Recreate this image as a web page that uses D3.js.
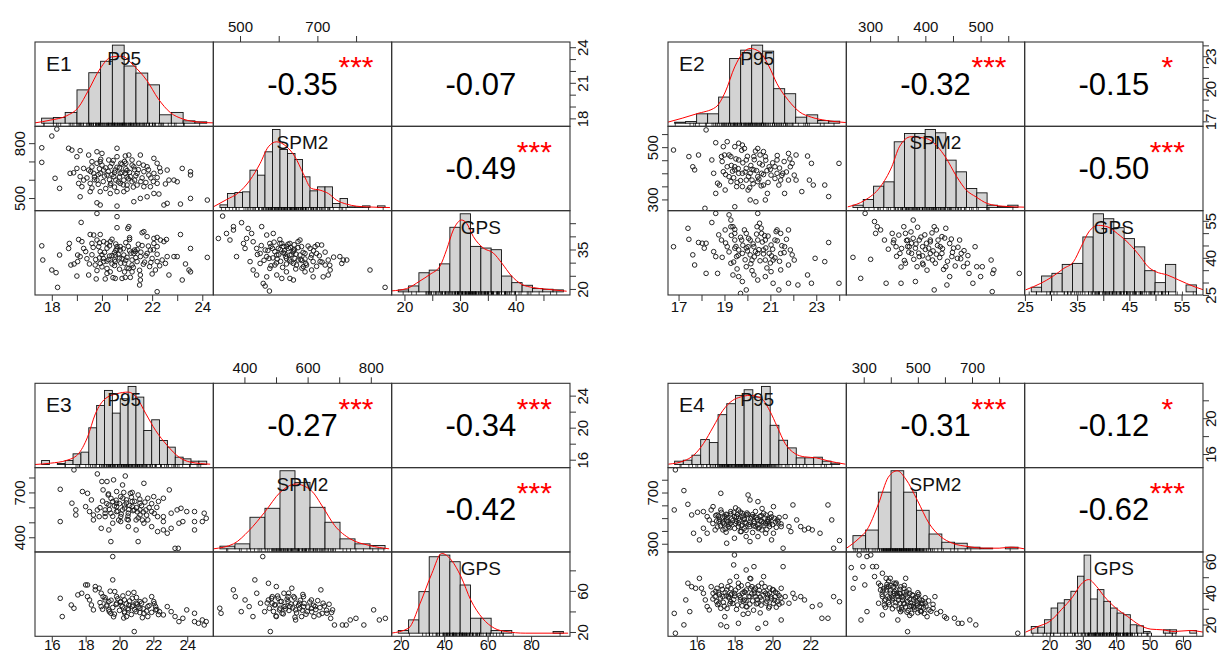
<!DOCTYPE html>
<html><head><meta charset="utf-8">
<script src="https://cdn.jsdelivr.net/npm/d3@7"></script>
<style>
html,body{margin:0;padding:0;background:#fff;}
svg{display:block;font-family:"Liberation Sans",Arial,Helvetica,sans-serif;}
</style></head><body>
<svg id="chart" width="1220" height="654"></svg>
<script>
// ================= DATA =================
const variables = ["P95", "SPM2", "GPS"];
const panelNames = ["E1", "E2", "E3", "E4"];

// ---- E1 ----
const E1_limits = [[17.33, 24.44], [431, 892], [17.7, 49.77]];
const E1_ticks = [[18,19,20,21,22,23,24], [500,600,700,800], [20,25,30,35,40,45]];
// labels: P95 bottom, SPM2 top, GPS bottom, P95 right, SPM2 left, GPS right
const E1_tickLabels = [[18,20,22,24], [500,700], [20,30,40], [18,21,24], [500,800], [20,35]];
const E1_cor = [-0.35, -0.07, -0.49];
const E1_sig = ["***", "", "***"];
const E1_P95_breaks = [17.5,18,18.5,19,19.5,20,20.5,21,21.5,22,22.5,23,23.5,24,24.5];
const E1_P95_freq = [15,17,32,99,150,184,232,170,149,114,25,32,7,4];
const E1_P95_density = [[17.22,1],[17.86,9],[18.56,22],[19.06,47],[19.48,97],[19.98,162],[20.47,197],[20.9,199],[21.39,172],[21.96,127],[22.45,72],[22.95,32],[23.51,12],[24.22,3],[24.78,1]];
const E1_SPM2_breaks = [440,460,480,500,520,540,560,580,600,620,640,660,680,700,720,740,760,780,800,820,840,860,880];
const E1_SPM2_freq = [8,42,45,47,112,97,167,234,174,162,144,92,50,62,62,12,27,2,2,5,0,5];
const E1_SPM2_density = [[422.5,2],[458,24],[489,44],[520,82],[547,132],[569,182],[591,197],[618,182],[640,152],[662,102],[684,57],[707,52],[729,42],[751,22],[778,10],[804,4],[831,2],[893,0]];
const E1_GPS_breaks = [18,20,22,24,26,28,30,32,34,36,38,40,42,44,46,48,50];
const E1_GPS_freq = [6,18,58,66,85,196,237,138,133,128,48,28,20,10,8,6];
const E1_GPS_density = [[16.72,3],[19.62,10],[22.2,33],[24.14,53],[26.08,78],[27.37,128],[28.67,188],[30.28,218],[31.25,208],[32.54,168],[34.48,133],[36.42,118],[38.03,88],[39.97,48],[41.91,23],[44.17,13],[46.75,8],[50.63,2]];
const E1_P95_SPM2 = [[18.2,877],[18.0,839],[17.6,775],[17.6,695],[18.67,772],[18.8,762],[19.13,759],[19.0,726],[19.47,735],[19.8,753],[20.0,744],[20.6,772],[20.93,730],[21.07,735],[21.53,735],[22.07,717],[22.2,690],[21.8,671],[21.47,690],[21.2,708],[20.6,726],[20.27,708],[19.93,699],[19.6,699],[19.27,662],[19.0,662],[18.73,635],[18.87,638],[19.13,617],[19.27,598],[19.07,580],[19.2,562],[19.53,580],[19.8,598],[19.93,635],[20.07,653],[20.33,671],[20.53,653],[20.73,635],[20.93,635],[21.13,617],[21.27,671],[21.4,635],[21.67,644],[21.87,626],[22.07,635],[22.33,644],[22.6,653],[22.67,598],[22.87,598],[23.0,589],[23.2,662],[23.53,644],[23.53,626],[18.13,608],[18.31,553],[19.13,507],[19.53,535],[19.93,535],[20.33,525],[20.6,535],[20.87,535],[21.27,480],[21.53,498],[21.8,507],[22.07,525],[22.27,522],[22.47,462],[22.6,471],[23.13,467],[23.53,498],[24.2,489],[19.8,474],[19.93,462],[20.6,456],[20.33,571],[20.73,580],[21.0,571],[21.4,571],[21.67,562],[21.93,562],[22.2,580],[22.53,577],[19.8,690],[20.2,626],[20.47,617],[20.87,598],[21.2,589],[19.67,635],[19.47,653],[20.0,680],[20.4,690],[20.7,665],[21.0,650],[20.1,620],[19.7,615],[20.9,700],[21.3,655],[20.5,640],[19.9,660],[21.6,610],[20.3,600],[21.0,615],[19.6,670],[20.8,685]];
const E1_P95_SPM2_core = [[19.4,610],[19.55,645],[19.7,600],[19.85,575],[19.95,712],[20.05,590],[20.15,665],[20.25,645],[20.35,580],[20.45,705],[20.55,598],[20.6,668],[20.7,615],[20.75,690],[20.85,572],[20.95,660],[21.05,605],[21.1,640],[21.2,680],[21.25,560],[21.35,622],[21.45,655],[21.55,590],[21.65,680],[21.75,585],[21.85,655],[21.95,610],[22.05,590],[22.2,612],[22.3,665],[20.15,552],[20.5,560],[21.0,548],[19.6,555],[20.8,640],[20.4,628],[20.65,588],[21.3,598],[19.85,628],[20.95,690]];
const E1_P95_GPS = [[17.6,36.4],[17.64,31.0],[18.31,32.9],[18.0,27.2],[18.17,26.2],[18.23,20.6],[18.7,37.3],[18.67,35.4],[19.17,45.3],[19.07,38.8],[19.2,38.0],[19.27,35.4],[19.03,32.9],[19.13,32.3],[18.76,29.1],[18.89,29.5],[19.03,30.4],[19.0,24.9],[19.47,25.3],[19.77,23.8],[19.53,40.7],[19.67,40.5],[19.93,40.7],[19.8,38.6],[19.6,37.3],[19.87,36.1],[19.93,34.2],[20.07,38.0],[20.2,37.3],[20.33,38.0],[20.6,47.5],[20.6,43.3],[19.8,48.7],[21.03,43.0],[21.07,43.7],[20.73,34.8],[20.87,32.9],[20.53,32.9],[20.53,30.4],[20.27,31.2],[20.07,30.4],[19.93,29.7],[19.73,29.1],[20.2,27.8],[20.33,26.5],[20.53,24.0],[20.13,23.8],[20.44,24.3],[20.8,24.0],[20.93,24.4],[21.13,24.4],[21.27,33.5],[21.33,34.2],[21.53,32.3],[21.4,30.4],[21.2,29.1],[21.07,27.8],[21.2,26.5],[21.53,25.3],[21.53,23.4],[21.5,21.5],[21.67,41.8],[21.6,41.4],[21.8,39.9],[22.07,39.2],[22.2,39.6],[22.33,38.6],[22.47,38.0],[22.07,37.3],[22.2,36.1],[21.93,34.8],[21.8,33.5],[22.0,31.6],[22.2,30.4],[22.4,31.0],[22.6,32.3],[22.53,29.7],[22.13,27.2],[22.0,25.7],[22.2,18.95],[22.67,25.3],[22.87,32.3],[23.13,40.7],[23.0,32.3],[23.33,29.5],[23.53,35.4],[23.47,27.2],[23.53,26.5],[23.2,23.4],[24.2,32.0],[22.57,38.8],[21.1,38.8],[20.6,36.1],[20.73,36.1],[20.95,37.6],[20.0,33.0],[20.3,32.5],[20.5,33.8],[20.8,31.5],[21.0,32.0],[21.2,31.0],[20.4,29.5],[20.9,29.8],[21.4,35.0],[20.6,35.2],[19.9,31.8],[20.2,35.5],[21.7,30.2],[21.9,28.5],[20.7,27.5],[19.6,33.0],[21.1,34.5],[20.5,31.0],[21.6,36.5],[19.4,31.5]];
const E1_P95_GPS_core = [[19.35,34.2],[19.5,29.5],[19.65,35.8],[19.75,31.2],[19.9,37.5],[20.0,28.4],[20.1,33.9],[20.2,30.6],[20.3,36.4],[20.4,32.7],[20.5,28.9],[20.55,37.1],[20.65,33.1],[20.75,29.8],[20.85,35.3],[20.95,30.9],[21.05,36.2],[21.15,33.6],[21.25,28.2],[21.35,31.9],[21.45,37.0],[21.55,34.0],[21.65,29.4],[21.75,32.6],[21.85,36.3],[21.95,30.1],[22.05,34.9],[22.2,33.2],[22.3,28.8],[20.2,25.9],[20.9,26.5],[21.5,27.1],[19.8,27.0],[20.4,38.9],[21.1,39.5],[20.7,31.8],[20.05,31.6],[21.3,34.8],[20.55,34.7],[21.0,28.0]];
const E1_SPM2_GPS = [[444,39.2],[455,47.7],[465,41.1],[474,38.6],[483,42.4],[483,43.7],[491,32.3],[504,45.2],[509,37.3],[513,35.4],[517,39.2],[521,43.0],[530,41.1],[534,37.95],[543,35.4],[552,33.5],[556,43.7],[560,22.1],[565,21.1],[576,19.2],[569,40.5],[577,37.3],[586,41.1],[584,35.4],[590,34.2],[595,32.9],[599,35.4],[603,37.3],[608,37.3],[612,36.1],[616,33.5],[620,31.6],[625,35.4],[629,37.3],[638,34.8],[642,31.6],[646,29.1],[650,31.0],[655,32.9],[659,36.1],[664,28.5],[668,26.5],[672,29.1],[685,32.9],[689,24.6],[694,36.1],[711,36.7],[715,24.6],[720,29.1],[728,25.3],[733,27.2],[758,32.3],[763,29.7],[767,31.0],[776,31.0],[836,27.2],[875,20.6],[569,24.6],[608,24.0],[629,24.0],[638,23.4],[620,26.5],[590,29.1],[526,30.4],[534,27.2],[543,25.3],[577,27.8],[595,25.3],[655,38.6],[689,30.4],[707,30.4],[728,31.0],[698,33.5],[668,33.5],[681,35.4],[629,32.9],[638,29.7],[569,32.3],[565,34.8],[552,29.7],[600,33],[615,34.5],[630,35.8],[645,33.2],[605,30.5],[585,31.8],[660,30.8],[640,36.8],[620,29.5],[580,36.2]];
const E1_SPM2_GPS_core = [[545,33.1],[555,36.5],[562,30.9],[572,34.6],[580,28.8],[588,37.8],[596,31.4],[604,35.0],[610,28.2],[618,32.4],[624,37.0],[632,30.3],[637,34.1],[644,27.6],[650,35.7],[657,31.2],[663,33.9],[670,29.7],[676,36.3],[683,31.9],[690,34.5],[698,28.6],[705,32.6],[712,30.2],[720,34.0],[732,29.0],[742,32.1],[612,33.7],[628,31.0],[641,34.9],[594,29.9],[660,27.9],[603,38.8],[575,31.6],[650,38.0],[685,27.2],[620,36.2],[633,33.0],[668,31.4],[700,36.8]];

// ---- E2 ----
const E2_limits = [[16.54, 24.31], [257, 579.7], [24.95, 59.1]];
const E2_ticks = [[17,18,19,20,21,22,23,24], [300,350,400,450,500,550], [25,30,35,40,45,50,55]];
const E2_tickLabels = [[17,19,21,23], [300,400,500], [25,35,45,55], [17,20,23], [300,500], [25,40,55]];
const E2_cor = [-0.32, -0.15, -0.50];
const E2_sig = ["***", "*", "***"];
const E2_P95_breaks = [16.75,17.25,17.75,18.25,18.75,19.25,19.75,20.25,20.75,21.25,21.75,22.25,22.75,23.25,23.75,24.25];
const E2_P95_freq = [3,5,28,28,78,193,218,233,215,103,88,18,25,8,6];
const E2_P95_density = [[16.44,3],[17.75,28],[18.62,48],[19.05,93],[19.48,168],[19.83,208],[20.18,223],[20.61,213],[21.05,168],[21.4,118],[21.92,68],[22.44,33],[22.96,18],[23.66,8],[24.53,2]];
const E2_SPM2_breaks = [260,280,300,320,340,360,380,400,420,440,460,480,500,520,540,560,580];
const E2_SPM2_freq = [7,24,64,77,197,222,222,234,224,142,107,57,44,7,3,7];
const E2_SPM2_density = [[249.9,2],[283.3,22],[313,62],[335.2,122],[350,182],[372.3,212],[402,207],[424.2,182],[439,152],[461.3,92],[479.8,52],[498.4,32],[520.6,12],[550.3,4],[594.8,1]];
const E2_GPS_breaks = [26,28,30,32,34,36,38,40,42,44,46,48,50,52,54,56,58];
const E2_GPS_freq = [14,48,56,83,86,166,236,221,194,161,136,64,28,83,0,21];
const E2_GPS_density = [[24.9,6],[27.87,26],[30.1,46],[32.32,71],[34.18,91],[35.66,136],[37.14,181],[39.0,201],[40.85,196],[42.71,176],[44.93,146],[47.16,106],[48.64,76],[50.12,61],[52.35,51],[54.57,36],[57.54,16],[59.4,6]];
const E2_P95_SPM2 = [[16.78,489],[17.45,464],[17.62,425],[17.7,413],[17.87,470],[18.2,566],[18.15,266],[18.62,517],[18.7,362],[18.45,451],[18.53,400],[18.87,464],[19.12,521],[18.95,502],[19.28,464],[19.45,502],[19.62,515],[19.78,508],[19.87,495],[19.62,451],[19.45,425],[19.2,387],[19.28,368],[19.03,336],[18.78,355],[18.62,323],[19.53,349],[19.78,349],[20.03,336],[20.12,298],[20.37,291],[20.45,495],[20.7,483],[20.78,464],[20.53,438],[20.28,413],[20.12,400],[19.95,419],[19.78,400],[20.2,374],[20.45,368],[20.7,355],[20.87,323],[21.03,393],[21.2,425],[21.29,400],[21.37,355],[21.54,400],[21.62,323],[21.79,374],[21.79,476],[22.12,470],[21.95,438],[21.87,425],[22.04,393],[22.12,374],[22.37,330],[22.62,466],[22.79,438],[22.7,374],[22.87,355],[23.37,355],[23.54,311],[23.99,438],[20.78,298],[19.45,272],[19.45,413],[19.62,400],[19.95,451],[20.28,464],[20.62,400],[20.95,425],[21.29,451],[21.45,374],[19.12,425],[18.95,406],[19.95,374],[20.45,387]];
const E2_P95_SPM2_core = [[18.9,445],[19.05,395],[19.2,470],[19.3,430],[19.4,383],[19.5,455],[19.6,418],[19.7,372],[19.8,440],[19.9,405],[20.0,465],[20.05,388],[20.15,430],[20.25,360],[20.3,452],[20.4,410],[20.5,378],[20.55,470],[20.65,432],[20.7,395],[20.8,450],[20.9,365],[21.0,415],[21.1,440],[21.2,380],[21.3,468],[21.4,420],[21.5,392],[21.6,445],[21.7,405],[19.55,365],[20.1,345],[20.6,352],[19.0,470],[21.85,455],[20.35,485],[19.75,488],[20.85,410],[19.35,408],[20.2,415]];
const E2_P95_GPS = [[16.78,44.5],[17.41,51.96],[17.45,47.5],[17.62,41.2],[17.7,37.1],[17.87,46.2],[18.03,45.9],[18.12,43.9],[18.2,45.9],[18.2,33.7],[18.45,54.3],[18.53,42.5],[18.62,40.5],[18.7,33.7],[18.75,49.3],[18.87,47.2],[19.03,51.3],[19.12,44.5],[19.2,57.4],[19.28,55.3],[19.37,52.6],[19.45,49.9],[19.45,43.9],[19.53,40.5],[19.28,37.8],[19.37,33.06],[19.62,32.4],[19.78,30.4],[19.75,47.2],[19.87,51.3],[19.95,49.9],[20.03,44.5],[20.12,41.2],[20.2,39.1],[19.95,36.4],[20.28,33.06],[20.45,58.0],[20.42,52.6],[20.62,49.9],[20.78,47.2],[20.7,43.2],[20.95,41.8],[21.03,45.2],[21.2,47.2],[21.29,51.3],[21.45,49.9],[21.62,44.5],[21.79,51.3],[21.87,43.2],[21.95,41.2],[22.04,39.1],[21.79,37.1],[21.45,35.1],[21.03,34.4],[20.78,32.4],[20.45,31.0],[21.12,29.7],[21.37,27.0],[21.79,29.7],[22.2,29.0],[22.62,33.06],[22.79,29.7],[22.95,39.8],[23.37,38.46],[23.54,46.2],[23.99,29.7],[19.7,25.6],[19.95,27.0],[20.53,54.0],[18.62,58.0],[19.28,52.6],[19.78,41.8],[20.28,44.5],[20.45,41.8],[19.62,43.2],[20.78,39.1],[21.12,39.1],[20.12,47.2],[19.45,47.2],[21.45,41.8],[20.45,47.2]];
const E2_P95_GPS_core = [[18.9,40.2],[19.05,46.0],[19.2,42.4],[19.3,49.1],[19.4,38.3],[19.5,44.6],[19.6,41.0],[19.7,48.3],[19.8,45.1],[19.9,39.2],[20.0,42.8],[20.05,47.9],[20.15,37.6],[20.25,45.6],[20.3,40.4],[20.4,49.6],[20.5,43.3],[20.55,38.8],[20.65,46.4],[20.7,41.6],[20.8,44.0],[20.9,48.8],[21.0,37.9],[21.1,43.5],[21.2,40.0],[21.3,46.9],[21.4,38.6],[21.5,44.9],[21.6,42.1],[21.7,47.5],[19.55,35.5],[20.2,34.8],[20.85,35.9],[21.25,50.6],[19.45,51.5],[20.6,52.0],[19.95,44.0],[20.35,42.5],[20.75,49.0],[21.05,40.8]];
const E2_SPM2_GPS = [[269,40.2],[283,31.7],[301,39.4],[291,58.0],[308,54.7],[313,52.6],[310,49.9],[319,51.3],[326,47.2],[329,29.7],[333,43.5],[340,49.9],[343,47.2],[347,44.5],[354,41.8],[356,29.7],[361,52.6],[364,49.9],[368,47.2],[371,44.5],[364,37.8],[375,41.8],[378,55.3],[382,30.4],[385,36.4],[389,40.5],[395,37.8],[399,49.3],[402,45.9],[406,43.9],[409,41.8],[413,39.1],[416,52.6],[420,51.3],[423,47.2],[427,44.5],[430,41.8],[437,36.4],[439,29.0],[444,32.4],[448,40.5],[451,43.9],[458,39.8],[462,47.2],[465,41.8],[469,36.4],[476,37.8],[479,33.7],[486,29.7],[490,44.5],[493,36.4],[500,32.4],[503,36.4],[519,39.1],[521,26.3],[522,33.7],[524,35.1],[570,33.7],[416,27.0],[437,51.96],[375,45.9],[395,44.5],[409,47.2],[430,48.6],[389,47.2],[382,43.9]];
const E2_SPM2_GPS_core = [[342,46.1],[348,40.6],[352,49.2],[357,43.8],[362,38.9],[366,47.0],[370,42.3],[374,50.5],[379,39.4],[383,45.6],[388,41.9],[392,48.4],[396,37.2],[400,43.4],[405,39.9],[409,46.5],[414,42.8],[418,37.8],[422,45.0],[426,40.1],[431,43.7],[435,48.0],[440,38.6],[444,45.8],[449,42.2],[454,36.7],[459,44.3],[464,39.6],[470,42.9],[477,40.9],[356,36.3],[403,35.0],[433,35.3],[386,52.4],[412,50.1],[368,44.6],[395,40.8],[420,41.5],[447,47.6],[378,47.9]];

// ---- E3 ----
const E3_limits = [[15.01, 25.54], [301.6, 866], [15.8, 97.9]];
const E3_ticks = [[16,18,20,22,24], [400,500,600,700,800], [20,40,60,80]];
const E3_tickLabels = [[16,18,20,22,24], [400,600,800], [20,40,60,80], [16,20,24], [400,700], [20,60]];
const E3_cor = [-0.27, -0.34, -0.42];
const E3_sig = ["***", "***", "***"];
const E3_P95_breaks = [15,15.5,16,16.5,17,17.5,18,18.5,19,19.5,20,20.5,21,21.5,22,22.5,23,23.5,24,24.5,25,25.5];
const E3_P95_freq = [12,0,3,12,32,37,110,177,222,154,197,234,202,102,134,72,52,22,17,10,10];
const E3_P95_density = [[14.58,0],[15.57,4],[16.56,12],[17.3,30],[17.92,82],[18.42,152],[19.04,197],[19.78,212],[20.52,217],[21.02,202],[21.63,152],[22.25,102],[22.99,57],[23.74,22],[24.48,7],[25.72,1]];
const E3_SPM2_breaks = [300,350,400,450,500,550,600,650,700,750,800,850];
const E3_SPM2_freq = [8,15,95,122,235,200,125,80,30,15,10];
const E3_SPM2_density = [[277.8,0],[345.2,15],[397,55],[448.8,110],[500.7,170],[552.5,195],[604.4,175],[643.3,125],[682.2,70],[734,30],[798.8,10],[863.6,0]];
const E3_GPS_breaks = [15,20,25,30,35,40,45,50,55,60,65,70,75,80,85,90,95];
const E3_GPS_freq = [8,40,125,230,235,215,145,45,45,8,8,0,0,0,0,5];
const E3_GPS_density = [[11.5,0],[20.0,15],[25.6,90],[31.3,180],[36.0,240],[40.7,220],[45.4,170],[50.1,100],[55.8,45],[61.5,15],[67.1,5],[76.5,0],[97.3,0]];
const E3_P95_SPM2 = [[17.31,851],[18.69,824],[20.34,810],[16.5,721],[16.5,505],[17.81,706],[17.19,628],[17.42,583],[17.42,549],[18.11,694],[18.34,650],[18.0,605],[18.23,572],[18.46,549],[18.8,538],[18.96,773],[19.26,773],[19.65,784],[19.83,706],[20.18,750],[20.64,694],[21.1,683],[21.44,761],[19.03,717],[19.33,683],[19.6,639],[19.83,628],[20.07,672],[20.41,650],[20.75,639],[21.21,628],[21.67,661],[22.02,672],[22.59,661],[22.94,717],[19.15,583],[19.49,561],[19.83,572],[20.18,583],[20.52,561],[20.87,583],[21.21,549],[21.56,583],[21.9,572],[22.25,538],[22.59,538],[23.05,561],[23.4,583],[23.63,594],[23.97,572],[24.43,572],[25.0,561],[25.12,527],[24.89,505],[24.43,449],[19.6,494],[20.07,505],[20.52,471],[20.98,449],[21.44,494],[21.9,471],[22.25,438],[22.59,449],[22.82,427],[18.92,460],[19.37,449],[19.49,371],[21.1,371],[23.28,326],[23.47,326],[18.46,516],[18.69,583],[22.59,505],[23.05,460],[23.51,494],[23.74,505],[24.43,505],[19.83,605],[20.29,616],[20.75,605],[19.37,616],[21.21,583],[20.07,538],[20.52,516],[20.98,516],[19.15,538],[21.67,516]];
const E3_P95_SPM2_core = [[18.85,598],[19.0,642],[19.15,560],[19.25,625],[19.4,585],[19.5,660],[19.6,540],[19.7,610],[19.8,648],[19.9,575],[20.0,625],[20.1,555],[20.2,662],[20.3,595],[20.4,630],[20.5,542],[20.6,612],[20.7,668],[20.8,578],[20.9,640],[21.0,598],[21.1,530],[21.2,655],[21.3,612],[21.4,570],[21.5,635],[21.6,548],[21.75,598],[21.9,625],[22.05,560],[22.2,600],[22.3,640],[20.45,520],[19.95,515],[21.35,515],[20.75,700],[19.35,690],[20.25,700],[21.05,570],[20.55,585]];
const E3_P95_GPS = [[16.5,52.8],[16.62,35.0],[17.15,46.3],[17.31,43.1],[17.54,56.1],[17.77,57.7],[18.0,65.8],[18.11,54.4],[18.23,51.2],[18.34,46.3],[18.46,41.5],[18.57,61.0],[18.8,62.6],[18.92,57.7],[19.03,54.4],[19.15,51.2],[19.26,46.3],[19.37,41.5],[19.49,38.2],[19.6,70.7],[19.72,59.3],[19.83,54.4],[20.07,49.6],[20.18,44.7],[20.29,39.8],[20.41,35.0],[20.52,57.7],[20.75,52.8],[20.98,48.0],[21.21,43.1],[21.44,38.2],[21.67,35.0],[21.9,54.4],[22.02,49.6],[22.13,44.7],[22.36,39.8],[22.59,36.6],[22.82,44.7],[23.05,39.8],[23.28,35.0],[23.51,30.1],[23.74,33.3],[23.97,41.5],[24.43,38.2],[24.89,31.7],[25.0,26.8],[25.12,30.1],[20.87,20.4],[19.6,93.4],[18.11,65.8],[18.57,64.2],[24.43,30.1],[24.66,28.5],[19.83,48.0],[20.29,51.2],[20.75,44.7],[21.21,49.6],[19.37,49.6],[18.92,44.7],[20.52,41.5],[20.98,39.8],[21.67,44.7],[22.13,41.5]];
const E3_P95_GPS_core = [[18.85,48.6],[19.0,42.1],[19.15,53.4],[19.25,45.2],[19.4,39.7],[19.5,50.9],[19.6,43.8],[19.7,37.4],[19.8,46.8],[19.9,52.3],[20.0,41.0],[20.1,45.9],[20.2,55.1],[20.3,38.6],[20.4,47.3],[20.5,42.9],[20.6,50.2],[20.7,37.0],[20.8,46.1],[20.9,41.7],[21.0,53.6],[21.1,44.4],[21.2,38.9],[21.3,48.0],[21.4,42.6],[21.5,51.0],[21.6,40.3],[21.75,45.7],[21.9,39.1],[22.05,47.5],[22.2,42.0],[22.3,36.9],[20.25,33.6],[19.65,34.8],[21.35,33.9],[20.85,58.5],[19.45,59.7],[20.55,46.0],[20.05,48.9],[21.05,47.1]];
const E3_SPM2_GPS = [[322,43.1],[326,38.2],[365,61.0],[371,54.4],[402,51.2],[415,44.7],[433,70.7],[439,57.7],[451,48.0],[464,39.8],[458,93.4],[476,67.4],[488,54.4],[495,46.3],[501,64.2],[507,52.8],[513,43.1],[519,38.2],[525,57.7],[538,49.6],[544,44.7],[550,62.6],[556,54.4],[562,41.5],[575,48.0],[581,35.0],[587,54.4],[599,39.8],[612,51.2],[624,44.7],[636,36.6],[642,61.0],[649,48.0],[661,38.2],[673,33.3],[679,41.5],[685,26.8],[710,26.8],[722,26.8],[735,31.7],[753,33.3],[778,26.8],[809,41.5],[827,31.7],[846,33.3],[482,20.4],[390,39.8],[427,35.0],[501,35.0],[562,31.7],[513,49.6],[538,54.4],[562,48.0],[587,44.7],[488,48.0],[612,43.1],[525,44.7],[476,51.2]];
const E3_SPM2_GPS_core = [[472,48.2],[479,43.1],[486,52.7],[492,40.0],[498,46.4],[505,55.0],[511,41.5],[517,49.7],[523,37.6],[529,45.0],[535,51.9],[541,40.9],[547,47.3],[553,43.4],[559,53.1],[565,38.5],[571,45.9],[577,50.8],[583,41.2],[589,47.8],[595,37.3],[601,44.3],[607,49.2],[613,39.6],[619,46.0],[626,41.8],[632,50.5],[639,43.7],[646,38.1],[653,45.3],[660,41.1],[668,47.0],[676,39.0],[500,35.6],[560,34.4],[620,35.0],[540,57.8],[585,56.5],[530,42.6],[575,43.0]];

// ---- E4 ----
const E4_limits = [[14.48, 23.9], [235.8, 894.5], [12.57, 66]];
const E4_ticks = [[16,18,20,22], [300,400,500,600,700,800], [20,30,40,50,60]];
const E4_tickLabels = [[16,18,20,22], [300,500,700], [20,30,40,50,60], [16,20], [300,700], [20,40,60]];
const E4_cor = [-0.31, -0.12, -0.62];
const E4_sig = ["***", "*", "***"];
const E4_P95_breaks = [14.5,15,15.5,16,16.5,17,17.5,18,18.5,19,19.5,20,20.5,21,21.5,22,22.5,23,23.5,24];
const E4_P95_freq = [10,13,28,75,66,150,183,208,225,203,235,118,73,50,20,20,22,10,4];
const E4_P95_density = [[14.14,1],[15.04,11],[15.6,28],[16.16,63],[16.72,113],[17.28,163],[17.84,193],[18.28,203],[18.84,208],[19.51,198],[19.96,163],[20.41,113],[20.86,63],[21.42,33],[21.98,23],[22.65,20],[23.32,11],[24.33,1]];
const E4_SPM2_breaks = [250,300,350,400,450,500,550,600,650,700,750,800,850,900];
const E4_SPM2_freq = [40,57,172,237,172,117,45,20,17,5,2,0,5];
const E4_SPM2_density = [[225,2],[274,32],[304.7,57],[350.7,137],[389,217],[424.2,237],[457.9,212],[503.8,147],[549.8,77],[595.7,37],[641.7,17],[703,7],[764.2,2],[825.5,2],[871.5,5],[925,0]];
const E4_GPS_breaks = [14,16,18,20,22,24,26,28,30,32,34,36,38,40,42,44,46,48,50,52,54,56,58,60,62,64];
const E4_GPS_freq = [20,18,40,75,90,100,125,170,233,102,130,95,75,60,55,25,22,5,0,0,10,10,0,0,8];
const E4_GPS_density = [[12.27,3],[16.04,20],[19.58,35],[23.1,70],[26.65,110],[29.0,145],[31.36,160],[33.72,140],[36.07,110],[39.61,75],[43.14,50],[46.68,25],[50.21,12],[53.75,10],[57.28,5],[61.99,8],[66.1,3]];
const E4_P95_SPM2 = [[14.87,877],[15.32,715],[14.81,564],[15.53,608],[15.73,525],[16.04,546],[15.83,382],[16.14,330],[16.35,551],[16.55,512],[16.66,486],[16.76,564],[16.86,590],[17.07,525],[17.17,473],[17.27,564],[17.38,408],[17.48,512],[17.58,486],[17.68,434],[17.79,551],[17.99,512],[18.1,473],[18.2,434],[18.3,395],[18.4,538],[18.51,499],[18.61,460],[18.71,681],[18.81,642],[19.02,473],[19.12,434],[19.23,629],[19.33,512],[19.43,408],[19.53,538],[19.64,382],[19.74,473],[19.84,434],[19.95,330],[20.05,590],[20.25,486],[20.46,434],[20.56,265],[20.67,512],[20.87,434],[20.97,395],[21.08,603],[21.28,486],[21.49,434],[21.69,408],[21.9,421],[22.1,408],[22.51,382],[22.93,603],[23.13,486],[23.23,265],[23.54,325],[17.27,694],[17.58,304],[17.99,343],[18.81,317],[16.97,408],[16.55,382],[16.35,421],[18.2,564],[18.61,356],[19.23,356],[20.05,382],[19.64,460],[18.51,421],[17.79,460],[18.2,499],[18.61,525],[19.02,512],[19.43,473],[19.84,499],[17.38,460],[17.58,525],[18.81,434],[19.23,447]];
const E4_P95_SPM2_core = [[16.85,458],[17.0,520],[17.1,432],[17.2,490],[17.3,545],[17.4,470],[17.5,415],[17.6,505],[17.7,450],[17.8,535],[17.9,480],[18.0,420],[18.1,512],[18.2,462],[18.3,548],[18.4,445],[18.5,490],[18.6,405],[18.7,530],[18.8,470],[18.9,510],[19.0,440],[19.1,552],[19.2,488],[19.3,425],[19.4,520],[19.5,462],[19.6,500],[19.7,412],[19.8,475],[19.9,535],[20.0,450],[20.1,498],[20.2,428],[20.3,470],[18.35,395],[18.95,388],[17.55,390],[19.45,575],[18.05,580],
  [17.05,478],[17.15,515],[17.25,440],[17.35,502],[17.45,455],[17.55,530],[17.65,470],[17.75,425],[17.85,495],[17.95,545],[18.05,458],[18.15,528],[18.25,482],[18.35,440],[18.45,516],[18.55,468],[18.65,540],[18.75,450],[18.85,495],[18.95,528],[19.05,460],[19.15,505],[19.25,418],[19.35,480],[19.55,445],[19.65,525],[19.75,488],[19.85,455],[19.95,510],[20.15,470],[20.35,505],[20.45,455]];
const E4_P95_GPS = [[14.87,14.5],[14.81,27.1],[15.32,19.8],[15.42,35.6],[15.53,46.2],[15.63,28.2],[15.73,44.0],[15.94,43.0],[16.14,49.3],[16.25,43.0],[16.35,39.8],[16.45,35.6],[16.55,31.4],[16.66,29.3],[16.76,44.0],[16.86,39.8],[16.97,37.7],[17.07,43.0],[17.17,33.5],[17.27,30.3],[17.27,19.8],[17.38,37.7],[17.48,25.0],[17.58,41.9],[17.68,37.7],[17.79,34.5],[17.95,57.8],[17.99,64.1],[18.1,50.4],[18.2,46.2],[18.4,39.8],[18.51,35.6],[18.61,31.4],[18.71,27.1],[18.61,54.6],[18.81,49.3],[18.92,44.0],[19.02,41.9],[19.12,37.7],[19.23,33.5],[19.43,46.2],[19.53,50.4],[19.64,39.8],[19.74,36.7],[19.84,31.4],[20.05,41.9],[20.15,37.7],[20.25,34.5],[20.46,43.0],[20.56,56.7],[20.67,37.7],[20.87,33.5],[21.08,39.8],[21.18,36.7],[21.49,37.7],[21.69,35.6],[22.1,31.4],[22.51,32.4],[22.61,24.0],[22.93,24.0],[23.23,37.7],[23.54,34.5],[19.02,56.7],[20.46,22.9],[17.58,18.7],[19.23,17.6],[19.64,20.8],[18.2,20.8],[17.99,39.8],[18.3,35.6],[18.61,41.9],[18.81,37.7],[19.23,39.8],[17.79,38.8],[19.43,35.6],[19.84,39.8],[20.05,33.5],[20.25,39.8]];
const E4_P95_GPS_core = [[16.85,36.2],[17.0,41.0],[17.1,32.7],[17.2,38.9],[17.3,44.6],[17.4,34.1],[17.5,40.3],[17.6,30.2],[17.7,36.9],[17.8,42.8],[17.9,33.4],[18.0,38.1],[18.1,29.6],[18.2,43.5],[18.3,37.2],[18.4,31.9],[18.5,40.8],[18.6,35.1],[18.7,45.3],[18.8,33.0],[18.9,39.4],[19.0,29.1],[19.1,43.1],[19.2,36.0],[19.3,41.7],[19.4,32.3],[19.5,38.7],[19.6,44.0],[19.7,34.8],[19.8,30.5],[19.9,37.6],[20.0,42.2],[20.1,35.4],[20.2,31.0],[20.35,38.3],[20.5,33.8],[18.45,26.5],[19.35,27.4],[17.75,47.4],[18.85,49.0],
  [17.05,34.5],[17.15,40.1],[17.25,36.8],[17.35,42.3],[17.45,31.6],[17.55,38.2],[17.65,44.1],[17.75,33.2],[17.85,39.5],[17.95,35.9],[18.05,41.8],[18.15,32.4],[18.25,38.5],[18.35,44.6],[18.45,34.9],[18.55,40.4],[18.65,31.2],[18.75,37.8],[18.85,42.6],[18.95,35.0],[19.05,39.9],[19.15,33.1],[19.25,44.3],[19.35,37.2],[19.55,41.0],[19.65,33.6],[19.75,38.9],[19.85,43.2],[19.95,36.3],[20.15,40.6],[20.35,32.9],[20.45,36.9]];
const E4_SPM2_GPS = [[254,56.1],[261,43.0],[268,49.3],[283,64.1],[290,22.9],[297,56.7],[304,45.1],[312,63.1],[326,64.1],[333,56.7],[340,50.4],[347,56.7],[355,46.2],[362,41.9],[369,37.7],[369,26.1],[376,32.4],[383,49.3],[391,44.0],[398,39.8],[405,35.6],[412,46.2],[419,41.9],[426,37.7],[434,33.5],[441,29.3],[448,43.0],[455,38.8],[462,34.5],[470,31.4],[477,27.1],[484,35.6],[498,37.7],[505,31.4],[513,28.2],[527,33.5],[534,25.0],[541,29.3],[556,30.3],[563,37.7],[570,27.1],[584,28.2],[599,25.0],[606,24.0],[635,24.0],[649,20.8],[663,20.8],[692,22.9],[714,19.8],[462,15.5],[869,14.5],[369,52.5],[398,49.3],[355,33.5],[312,28.2],[426,22.9],[455,49.3],[412,39.8],[441,37.7],[470,39.8],[498,33.5],[383,41.9],[434,39.8],[484,31.4],[513,33.5]];
const E4_SPM2_GPS_core = [[362,44.8],[368,39.1],[374,42.6],[380,36.0],[386,45.5],[392,33.9],[398,41.4],[404,37.6],[410,43.9],[416,31.8],[422,39.8],[428,35.4],[434,42.3],[440,30.6],[446,37.0],[452,33.2],[458,40.7],[464,28.9],[470,35.9],[476,32.0],[482,38.4],[488,29.7],[494,34.8],[500,27.5],[506,36.2],[512,30.9],[518,33.6],[524,27.0],[530,31.7],[540,35.0],[548,28.4],[556,32.8],[392,47.6],[420,46.3],[450,44.8],[470,25.8],[436,28.2],[406,30.0],[380,30.9],[500,40.2],
  [371,41.2],[377,35.1],[384,43.8],[389,38.0],[395,32.6],[401,44.7],[407,36.6],[413,41.0],[419,33.9],[425,38.6],[431,29.9],[437,43.9],[443,35.6],[449,40.3],[455,31.2],[461,37.3],[467,42.0],[473,33.9],[479,38.9],[485,30.7],[491,36.9],[497,32.4],[503,39.1],[509,28.6],[515,35.3],[521,30.6],[527,37.0],[447,33.1],[418,45.6],[396,36.9],[460,27.8],[433,39.4]];

// ============== ASSEMBLY ==============
const panels = [
  {name:"E1", limits:E1_limits, ticks:E1_ticks, labels:E1_tickLabels, cor:E1_cor, sig:E1_sig,
   breaks:[E1_P95_breaks,E1_SPM2_breaks,E1_GPS_breaks], freq:[E1_P95_freq,E1_SPM2_freq,E1_GPS_freq],
   dens:[E1_P95_density,E1_SPM2_density,E1_GPS_density],
   pairs:[E1_P95_SPM2.concat(E1_P95_SPM2_core), E1_P95_GPS.concat(E1_P95_GPS_core), E1_SPM2_GPS.concat(E1_SPM2_GPS_core)]},
  {name:"E2", limits:E2_limits, ticks:E2_ticks, labels:E2_tickLabels, cor:E2_cor, sig:E2_sig,
   breaks:[E2_P95_breaks,E2_SPM2_breaks,E2_GPS_breaks], freq:[E2_P95_freq,E2_SPM2_freq,E2_GPS_freq],
   dens:[E2_P95_density,E2_SPM2_density,E2_GPS_density],
   pairs:[E2_P95_SPM2.concat(E2_P95_SPM2_core), E2_P95_GPS.concat(E2_P95_GPS_core), E2_SPM2_GPS.concat(E2_SPM2_GPS_core)]},
  {name:"E3", limits:E3_limits, ticks:E3_ticks, labels:E3_tickLabels, cor:E3_cor, sig:E3_sig,
   breaks:[E3_P95_breaks,E3_SPM2_breaks,E3_GPS_breaks], freq:[E3_P95_freq,E3_SPM2_freq,E3_GPS_freq],
   dens:[E3_P95_density,E3_SPM2_density,E3_GPS_density],
   pairs:[E3_P95_SPM2.concat(E3_P95_SPM2_core), E3_P95_GPS.concat(E3_P95_GPS_core), E3_SPM2_GPS.concat(E3_SPM2_GPS_core)]},
  {name:"E4", limits:E4_limits, ticks:E4_ticks, labels:E4_tickLabels, cor:E4_cor, sig:E4_sig,
   breaks:[E4_P95_breaks,E4_SPM2_breaks,E4_GPS_breaks], freq:[E4_P95_freq,E4_SPM2_freq,E4_GPS_freq],
   dens:[E4_P95_density,E4_SPM2_density,E4_GPS_density],
   pairs:[E4_P95_SPM2.concat(E4_P95_SPM2_core), E4_P95_GPS.concat(E4_P95_GPS_core), E4_SPM2_GPS.concat(E4_SPM2_GPS_core)]}
];

// ============== LAYOUT ==============
const W = 1220, H = 654;
const CW = 178.33, CH = 84.33;
const origins = [[35, 42], [668, 42], [35, 383.3], [668, 383.3]];
const FRAME = "#333";
const svg = d3.select("#chart");
const defs = svg.append("defs");
let clipId = 0;

function drawPanel(P, x0, y0) {
  const g = svg.append("g");
  const cx = c => x0 + c * CW, cy = r => y0 + r * CH;
  const xs = P.limits.map((l, i) => d3.scaleLinear().domain(l).range([cx(i), cx(i + 1)]));
  const ys = P.limits.map((l, i) => d3.scaleLinear().domain(l).range([cy(i + 1), cy(i)]));

  function clip(c, r) {
    const id = "clip" + (clipId++);
    defs.append("clipPath").attr("id", id).append("rect")
      .attr("x", cx(c)).attr("y", cy(r)).attr("width", CW).attr("height", CH);
    return "url(#" + id + ")";
  }

  const rugVals = [P.pairs[0].map(d => d[0]), P.pairs[2].map(d => d[0]), P.pairs[1].map(d => d[1])];

  // ---- diagonal: histograms ----
  for (let i = 0; i < 3; i++) {
    const br = P.breaks[i], fr = P.freq[i];
    const R = br[br.length - 1] - br[0];
    const hx = d3.scaleLinear().domain([br[0] - 0.04 * R, br[br.length - 1] + 0.04 * R]).range([cx(i), cx(i + 1)]);
    const mx = d3.max(fr);
    const hy = d3.scaleLinear().domain([-0.04 * mx, 1.04 * mx]).range([cy(i + 1), cy(i)]);
    const cg = g.append("g").attr("clip-path", clip(i, i));
    cg.selectAll("rect.bar").data(fr).join("rect").attr("class", "bar")
      .attr("x", (d, k) => hx(br[k])).attr("width", (d, k) => hx(br[k + 1]) - hx(br[k]))
      .attr("y", d => hy(d)).attr("height", d => Math.max(0, hy(0) - hy(d)))
      .attr("fill", "#d3d3d3").attr("stroke", "#111").attr("stroke-width", 0.9);
    cg.append("path").datum(P.dens[i])
      .attr("d", d3.line().x(d => hx(d[0])).y(d => hy(d[1])).curve(d3.curveMonotoneX))
      .attr("fill", "none").attr("stroke", "#ff0000").attr("stroke-width", 1);
    cg.selectAll("line.rug").data(rugVals[i]).join("line").attr("class", "rug")
      .attr("x1", d => hx(d)).attr("x2", d => hx(d))
      .attr("y1", cy(i + 1)).attr("y2", cy(i + 1) - 3.5)
      .attr("stroke", "#000").attr("stroke-width", 0.7);
    g.append("text").attr("x", cx(i) + CW / 2).attr("y", cy(i) + 23)
      .attr("text-anchor", "middle").attr("font-size", 19).attr("fill", "#111").text(variables[i]);
  }

  // ---- lower: scatter ----
  const lower = [[0, 1], [0, 2], [1, 2]];
  lower.forEach(([a, b], k) => {
    g.append("g").attr("clip-path", clip(a, b))
      .selectAll("circle").data(P.pairs[k]).join("circle")
      .attr("cx", d => xs[a](d[0])).attr("cy", d => ys[b](d[1])).attr("r", 2.3)
      .attr("fill", "none").attr("stroke", "#1a1a1a").attr("stroke-width", 0.95);
  });

  // ---- upper: correlations ----
  const upper = [[1, 0], [2, 0], [2, 1]];
  upper.forEach(([c, r], k) => {
    g.append("text").attr("x", cx(c) + CW / 2).attr("y", cy(r) + CH / 2 + 10.7)
      .attr("text-anchor", "middle").attr("font-size", 31).attr("fill", "#000")
      .text(P.cor[k].toFixed(2));
    if (P.sig[k]) g.append("text").attr("x", cx(c) + 0.8 * CW).attr("y", cy(r) + 35.4)
      .attr("text-anchor", "middle").attr("font-size", 30).attr("fill", "#ff0000").text(P.sig[k]);
  });

  // ---- frames ----
  for (let r = 0; r < 3; r++) for (let c = 0; c < 3; c++)
    g.append("rect").attr("x", cx(c)).attr("y", cy(r)).attr("width", CW).attr("height", CH)
      .attr("fill", "none").attr("stroke", FRAME).attr("stroke-width", 1.1);

  // ---- axes ----
  const fmt = labs => d => labs.includes(d) ? String(d) : "";
  function styleAxis(sel) {
    sel.select(".domain").remove();
    sel.selectAll(".tick line").attr("stroke", FRAME);
    sel.selectAll("text").filter(function () { return this.textContent === ""; }).remove();
    sel.selectAll("text").attr("font-size", 15).attr("fill", "#111")
      .attr("font-family", '"Liberation Sans",Arial,sans-serif');
  }
  // bottom labels: keep inside the page when the panel sits at the bottom edge
  const bottomOff = Math.min(17.5, H - 4 - cy(3));
  [[0, 0], [2, 2]].forEach(([c, li]) => {
    const ax = g.append("g").attr("transform", `translate(0,${cy(3)})`)
      .call(d3.axisBottom(xs[c]).tickValues(P.ticks[c]).tickSize(6).tickFormat(fmt(P.labels[li])));
    styleAxis(ax);
    ax.selectAll("text").attr("dy", null).attr("y", bottomOff);
  });
  {
    const ax = g.append("g").attr("transform", `translate(0,${cy(0)})`)
      .call(d3.axisTop(xs[1]).tickValues(P.ticks[1]).tickSize(6).tickFormat(fmt(P.labels[1])));
    styleAxis(ax);
    ax.selectAll("text").attr("dy", null).attr("y", -10.5);
  }
  {
    const ax = g.append("g").attr("transform", `translate(${cx(0)},0)`)
      .call(d3.axisLeft(ys[1]).tickValues(P.ticks[1]).tickSize(6).tickFormat(fmt(P.labels[4])));
    styleAxis(ax);
    ax.selectAll("text").attr("dy", null).attr("x", 0).attr("y", -10.5)
      .attr("text-anchor", "middle").attr("transform", "rotate(-90)");
  }
  // right-side labels: keep inside the page when the panel sits at the right edge
  const rightOff = Math.min(18.5, W - 4 - cx(3));
  [[0, 3], [2, 5]].forEach(([r, li]) => {
    const ax = g.append("g").attr("transform", `translate(${cx(3)},0)`)
      .call(d3.axisRight(ys[r]).tickValues(P.ticks[r]).tickSize(6).tickFormat(fmt(P.labels[li])));
    styleAxis(ax);
    ax.selectAll("text").attr("dy", null).attr("x", 0).attr("y", rightOff)
      .attr("text-anchor", "middle").attr("transform", "rotate(-90)");
  });

  g.append("text").attr("x", x0 + 11).attr("y", y0 + 29).attr("font-size", 21).attr("fill", "#111").text(P.name);
}

panels.forEach((P, i) => drawPanel(P, origins[i][0], origins[i][1]));
</script>
</body></html>
